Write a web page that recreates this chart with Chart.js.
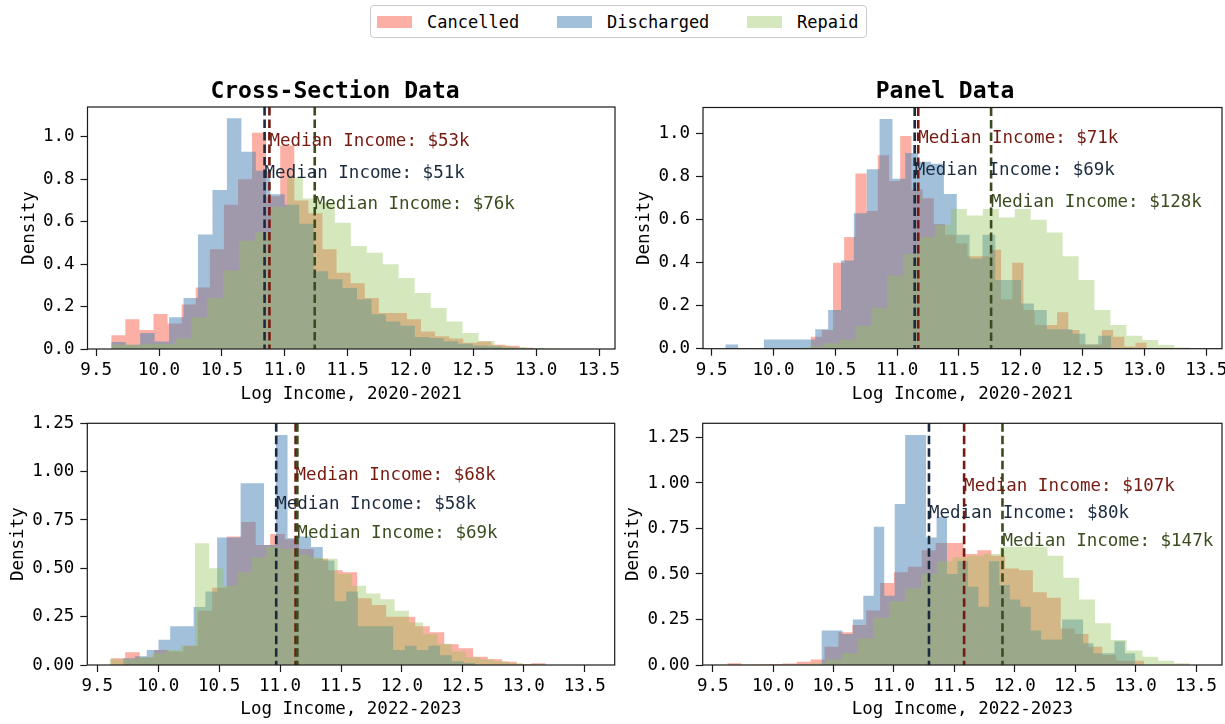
<!DOCTYPE html>
<html>
<head>
<meta charset="utf-8">
<script src="https://cdn.jsdelivr.net/npm/chart.js@4.4.1/dist/chart.umd.min.js"></script>
<style>
  body { margin: 0; background: #fff; width: 1225px; height: 724px; position: relative; overflow: hidden;
         font-family: "DejaVu Sans Mono", monospace; }
  canvas { position: absolute; }
  .title { position: absolute; top: 76px; font-weight: bold; font-size: 23px; line-height: 28px;
           color: #000; transform: translateX(-50%); white-space: nowrap; z-index: 2; }
  #legend { position: absolute; left: 370px; top: 5px; width: 497px; height: 33px; box-sizing: border-box;
            border: 1px solid #ccc; border-radius: 4px; font-size: 17px; color: #000; }
  #legend .sw { position: absolute; top: 10px; width: 35px; height: 12px; }
  #legend .lt { position: absolute; top: 5px; line-height: 22px; white-space: nowrap; }
</style>
</head>
<body>
<div id="legend"></div>
<div class="title" style="left:335px">Cross-Section Data</div>
<div class="title" style="left:945px">Panel Data</div>
<canvas id="tl" width="622" height="312" style="left:0px;top:100px"></canvas>
<canvas id="tr" width="603" height="312" style="left:622px;top:100px"></canvas>
<canvas id="bl" width="622" height="312" style="left:0px;top:412px"></canvas>
<canvas id="br" width="603" height="312" style="left:622px;top:412px"></canvas>
<script>
// series
const seriesNames = ["Cancelled", "Discharged", "Repaid"];
const xTicks = [9.5, 10.0, 10.5, 11.0, 11.5, 12.0, 12.5, 13.0, 13.5];
const yTicksTop = [0, 0.2, 0.4, 0.6, 0.8, 1.0];
const yTicksBottom = [0, 0.25, 0.5, 0.75, 1.0, 1.25];
const labelY = [0.98, 0.83, 0.68];

// Cross-Section, 2020-2021 (bin start / bin width per series, density per bin)
const cs20Start = [9.62, 9.62, 9.62];
const cs20Width = [0.112, 0.115, 0.127];
const cs20Cancelled = [0.065, 0.14, 0.09, 0.165, 0.12, 0.21, 0.29, 0.47, 0.68, 0.80, 1.02, 0.72, 0.96, 0.70, 0.64,
  0.47, 0.36, 0.31, 0.24, 0.17, 0.17, 0.14, 0.083, 0.06, 0.05, 0.03, 0.035, 0.02, 0.015, 0.006];
const cs20Discharged = [0.033, 0.02, 0.075, 0.035, 0.15, 0.24, 0.54, 0.75, 1.088, 0.93, 0.84, 0.73, 0.68, 0.59, 0.366,
  0.329, 0.288, 0.235, 0.164, 0.13, 0.11, 0.057, 0.052, 0.036, 0.025, 0.017, 0.013, 0.007, 0.004, 0.003];
const cs20Repaid = [0.02, 0.02, 0.025, 0.025, 0.05, 0.148, 0.24, 0.37, 0.51, 0.55, 0.67, 0.81, 0.71, 0.69, 0.595,
  0.486, 0.454, 0.40, 0.335, 0.264, 0.193, 0.13, 0.075, 0.038, 0.017, 0.009, 0.005, 0.003, 0.001, 0.001];
const cs20MedianK = [53, 51, 76];

// Panel, 2020-2021
const pn20Start = [10.30, 9.61, 9.50];
const pn20Width = [0.0906, 0.104, 0.129];
const pn20Cancelled = [0.056, 0.087, 0.40, 0.52, 0.815, 0.64, 0.90, 0.78, 0.99, 0.74, 0.70, 0.58, 0.53, 0.49, 0.43,
  0.43, 0.46, 0.23, 0.40, 0.18, 0.11, 0.11, 0.17, 0.087, 0.02, 0.02, 0.087, 0.056, 0.01, 0.028];
const pn20Discharged = [0.02, 0, 0, 0.043, 0.043, 0.043, 0.043, 0.09, 0.18, 0.41, 0.63, 0.835, 1.068, 0.79, 0.91,
  0.87, 0.86, 0.72, 0.53, 0.42, 0.53, 0.32, 0.32, 0.21, 0.18, 0.09, 0.09, 0.07, 0.02, 0.06];
const pn20Repaid = [0, 0, 0, 0.003, 0.003, 0.003, 0.01, 0.025, 0.043, 0.107, 0.19, 0.34, 0.44, 0.52, 0.575,
  0.65, 0.62, 0.65, 0.61, 0.65, 0.60, 0.54, 0.43, 0.32, 0.18, 0.11, 0.06, 0.04, 0.017, 0.006];
const pn20MedianK = [71, 69, 128];

// Cross-Section, 2022-2023
const cs22Start = [9.61, 9.713, 9.60];
const cs22Width = [0.119, 0.0963, 0.117];
const cs22Cancelled = [0.035, 0.066, 0.04, 0.078, 0.07, 0.10, 0.28, 0.40, 0.665, 0.74, 0.62, 0.677, 0.65, 0.60, 0.55,
  0.49, 0.48, 0.345, 0.31, 0.25, 0.25, 0.20, 0.17, 0.107, 0.086, 0.043, 0.03, 0.017, 0.005, 0.009];
const cs22Discharged = [0.035, 0.045, 0.078, 0.13, 0.20, 0.20, 0.30, 0.38, 0.66, 0.66, 0.94, 0.94, 0.62, 1.19, 0.656,
  0.665, 0.61, 0.54, 0.33, 0.38, 0.2, 0.2, 0.2, 0.078, 0.1, 0.078, 0.1, 0.05, 0.02, 0.01];
const cs22Repaid = [0.03, 0.03, 0.04, 0.06, 0.078, 0.10, 0.63, 0.50, 0.41, 0.48, 0.556, 0.61, 0.60, 0.57, 0.556,
  0.55, 0.47, 0.41, 0.37, 0.34, 0.28, 0.22, 0.16, 0.11, 0.07, 0.04, 0.03, 0.02, 0.01, 0.005];
const cs22MedianK = [68, 58, 69];

// Panel, 2022-2023
const pn22Start = [9.62, 10.40, 9.52];
const pn22Width = [0.115, 0.0866, 0.131];
const pn22Cancelled = [0.01, 0.002, 0.003, 0.006, 0.008, 0.018, 0.03, 0.10, 0.18, 0.22, 0.30, 0.45, 0.51, 0.54, 0.63,
  0.67, 0.67, 0.61, 0.63, 0.60, 0.53, 0.52, 0.40, 0.37, 0.2, 0.17, 0.10, 0.055, 0.024, 0.024];
const pn22Discharged = [0.19, 0.19, 0.17, 0.25, 0.38, 0.76, 0.38, 0.885, 1.264, 1.264, 0.70, 0.815, 0.50, 0.57, 0.43,
  0.32, 0.57, 0.44, 0.36, 0.32, 0.19, 0.14, 0.14, 0.25, 0.25, 0.12, 0.064, 0.064, 0.13, 0.064];
const pn22Repaid = [0.002, 0.002, 0.002, 0.002, 0.002, 0.005, 0.01, 0.03, 0.064, 0.146, 0.26, 0.35, 0.42, 0.50, 0.57,
  0.59, 0.60, 0.61, 0.65, 0.65, 0.65, 0.60, 0.48, 0.36, 0.23, 0.137, 0.08, 0.046, 0.024, 0.01];
const pn22MedianK = [107, 80, 147];

// styles
const fillColors = ["rgba(250,110,90,0.55)", "rgba(70,130,180,0.5)", "rgba(150,195,90,0.4)"];
const medianColors = ["#741a10", "#1b2a3e", "#3b4c1f"];
const FONT = "DejaVu Sans Mono";

Chart.defaults.font.family = FONT;
Chart.defaults.font.size = 17.5;
Chart.defaults.color = "#000";

const panels = [
  { id: "tl", start: cs20Start, width: cs20Width, hist: [cs20Cancelled, cs20Discharged, cs20Repaid], medians: cs20MedianK,
    xMin: 9.431, xMax: 13.627, yMax: 1.141, yTicks: yTicksTop, yDec: 1, xTitle: "Log Income, 2020-2021",
    pad: { left: 0, right: 7, top: 7, bottom: 0 }, yAxisW: 87.5, xAxisH: 63, xTitlePad: 7.5, yTitlePad: 18.5 },
  { id: "tr", start: pn20Start, width: pn20Width, hist: [pn20Cancelled, pn20Discharged, pn20Repaid], medians: pn20MedianK,
    xMin: 9.43, xMax: 13.627, yMax: 1.122, yTicks: yTicksTop, yDec: 1, xTitle: "Log Income, 2020-2021",
    pad: { left: 0, right: 3, top: 7.5, bottom: 0 }, yAxisW: 81, xAxisH: 63.3, xTitlePad: 7.5, yTitlePad: 11.5 },
  { id: "bl", start: cs22Start, width: cs22Width, hist: [cs22Cancelled, cs22Discharged, cs22Repaid], medians: cs22MedianK,
    xMin: 9.418, xMax: 13.746, yMax: 1.25, yTicks: yTicksBottom, yDec: 2, xTitle: "Log Income, 2022-2023",
    pad: { left: 0, right: 7.3, top: 11.3, bottom: 0 }, yAxisW: 87.3, xAxisH: 59, xTitlePad: 4.5, yTitlePad: 7.5 },
  { id: "br", start: pn22Start, width: pn22Width, hist: [pn22Cancelled, pn22Discharged, pn22Repaid], medians: pn22MedianK,
    xMin: 9.417, xMax: 13.715, yMax: 1.328, yTicks: yTicksBottom, yDec: 2, xTitle: "Log Income, 2022-2023",
    pad: { left: 0, right: 3, top: 11.3, bottom: 0 }, yAxisW: 80.7, xAxisH: 59, xTitlePad: 4.5, yTitlePad: 0.5 }
];

// step outline for a histogram: one point per left bin edge, closed at the last right edge
function histPoints(start, width, heights) {
  const pts = heights.map((h, i) => ({ x: start + i * width, y: h }));
  pts.push({ x: start + heights.length * width, y: 0 });
  return pts;
}

function medianPlugin(medians) {
  return {
    id: "medians",
    afterDatasetsDraw(chart) {
      const { ctx, chartArea, scales } = chart;
      ctx.save();
      medians.forEach((k, i) => {
        const x = scales.x.getPixelForValue(Math.log(k * 1000));
        ctx.strokeStyle = medianColors[i];
        ctx.lineWidth = 2.6;
        ctx.setLineDash([8.5, 4]);
        ctx.beginPath();
        ctx.moveTo(x, chartArea.top);
        ctx.lineTo(x, chartArea.bottom);
        ctx.stroke();
      });
      ctx.setLineDash([]);
      ctx.font = "17.5px '" + FONT + "'";
      ctx.textAlign = "left";
      ctx.textBaseline = "middle";
      medians.forEach((k, i) => {
        const x = scales.x.getPixelForValue(Math.log(k * 1000));
        ctx.fillStyle = medianColors[i];
        ctx.fillText("Median Income: $" + k + "k", x, scales.y.getPixelForValue(labelY[i]));
      });
      ctx.restore();
    },
    afterDraw(chart) {
      const { ctx, chartArea } = chart;
      ctx.save();
      ctx.strokeStyle = "#1a1a1a";
      ctx.lineWidth = 1.2;
      ctx.strokeRect(chartArea.left, chartArea.top, chartArea.right - chartArea.left, chartArea.bottom - chartArea.top);
      ctx.restore();
    }
  };
}

panels.forEach(p => {
  new Chart(document.getElementById(p.id), {
    type: "line",
    data: {
      datasets: seriesNames.map((name, s) => ({
        label: name,
        data: histPoints(p.start[s], p.width[s], p.hist[s]),
        stepped: true,
        fill: "origin",
        backgroundColor: fillColors[s],
        borderColor: "rgba(0,0,0,0)",
        borderWidth: 0,
        pointRadius: 0,
        order: 3 - s
      }))
    },
    options: {
      responsive: false,
      animation: false,
      events: [],
      layout: { padding: p.pad },
      plugins: { legend: { display: false }, tooltip: { enabled: false } },
      scales: {
        x: {
          type: "linear", min: p.xMin, max: p.xMax,
          afterBuildTicks: s => { s.ticks = xTicks.map(v => ({ value: v })); },
          afterFit: s => { s.height = p.xAxisH; s.paddingLeft = 0; s.paddingRight = 0; },
          ticks: { padding: 4, maxRotation: 0, autoSkip: false, callback: v => v.toFixed(1) },
          grid: { drawOnChartArea: false, tickLength: 7, tickWidth: 1.2, tickColor: "#1a1a1a" },
          border: { display: false },
          title: { display: true, text: p.xTitle, padding: { top: 0, bottom: p.xTitlePad } }
        },
        y: {
          type: "linear", min: 0, max: p.yMax,
          afterBuildTicks: s => { s.ticks = p.yTicks.map(v => ({ value: v })); },
          afterFit: s => { s.width = p.yAxisW; s.paddingTop = 0; s.paddingBottom = 0; },
          ticks: { padding: 6, autoSkip: false, callback: v => v.toFixed(p.yDec) },
          grid: { drawOnChartArea: false, tickLength: 7, tickWidth: 1.2, tickColor: "#1a1a1a" },
          border: { display: false },
          title: { display: true, text: "Density", padding: { top: p.yTitlePad, bottom: 0 } }
        }
      }
    },
    plugins: [medianPlugin(p.medians)]
  });
});

// figure legend
const legendSwatchX = [6, 186, 376];
const legendTextX = [56, 236, 426];
const legend = document.getElementById("legend");
seriesNames.forEach((name, s) => {
  const sw = document.createElement("span");
  sw.className = "sw";
  sw.style.left = legendSwatchX[s] + "px";
  sw.style.background = fillColors[s];
  legend.appendChild(sw);
  const lt = document.createElement("span");
  lt.className = "lt";
  lt.style.left = legendTextX[s] + "px";
  lt.textContent = name;
  legend.appendChild(lt);
});
</script>
</body>
</html>
